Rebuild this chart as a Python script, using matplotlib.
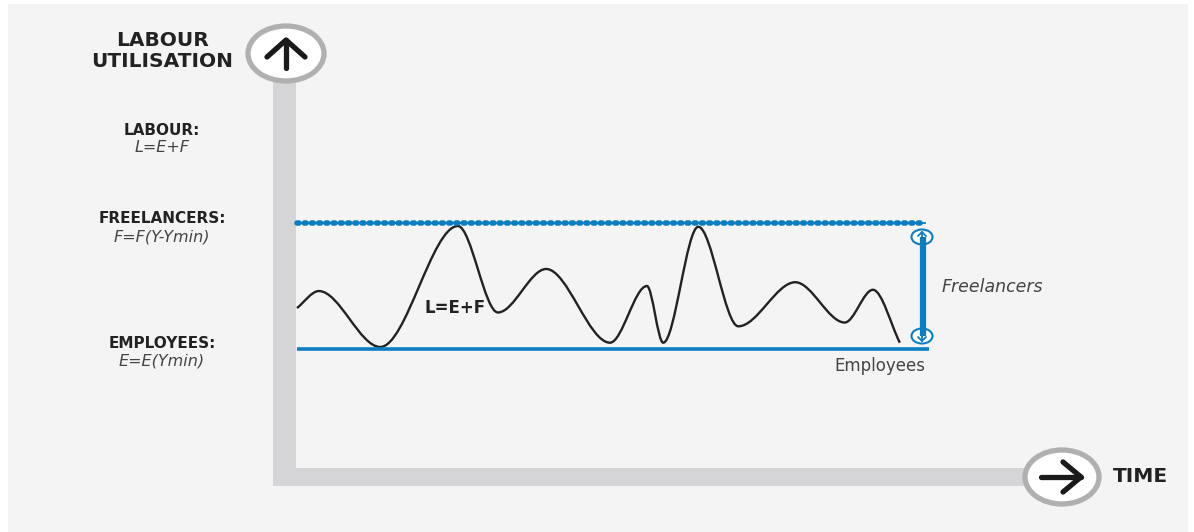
import matplotlib.pyplot as plt
import numpy as np
from matplotlib.patches import Ellipse, Rectangle, PathPatch
from matplotlib.path import Path

# labour curve turning points:
# time (0..100) and freelancer share (0 = employees only, 1 = freelancer maximum)
time = [0, 3.5, 13.3, 25.7, 32.1, 39.8, 50.0, 55.9, 58.5, 64.1, 70.5, 79.6, 87.5, 92.0, 96.3]
labour = [0.325, 0.46, 0.016, 0.976, 0.29, 0.635, 0.05, 0.50, 0.05, 0.97, 0.18, 0.53, 0.21, 0.47, 0.05]

employees_level = 0.0
freelancer_level = 1.0

left_labels = ["LABOUR:", "FREELANCERS:", "EMPLOYEES:"]
left_formulas = ["L=E+F", "F=F(Y-Ymin)", "E=E(Ymin)"]

BLUE = "#0b7dc1"
GREY_BAR = "#d5d5d7"
RING = "#b0b0b0"
INK = "#222222"


def smooth_path(xs, ys):
    # bezier through turning points: flat tangents at peaks/troughs, free at the ends
    pts = np.column_stack([xs, ys]).astype(float)
    n = len(pts)
    slopes = np.zeros(n)
    slopes[0] = (pts[1, 1] - pts[0, 1]) / (pts[1, 0] - pts[0, 0])
    slopes[-1] = (pts[-1, 1] - pts[-2, 1]) / (pts[-1, 0] - pts[-2, 0])
    verts = [pts[0]]
    codes = [Path.MOVETO]
    for i in range(n - 1):
        p1, p2 = pts[i], pts[i + 1]
        dx = (p2[0] - p1[0]) / 3.0
        c1 = p1 + np.array([dx, slopes[i] * dx])
        c2 = p2 - np.array([dx, slopes[i + 1] * dx])
        verts += [c1, c2, p2]
        codes += [Path.CURVE4] * 3
    return Path(verts, codes)


fig = plt.figure(figsize=(11.94, 5.32), dpi=100)
fig.patch.set_facecolor("white")

# pixel canvas for the decoration
ax = fig.add_axes([0, 0, 1, 1])
ax.set_xlim(0, 1194)
ax.set_ylim(532, 0)
ax.axis("off")
ax.add_patch(Rectangle((8, 4), 1180, 530, facecolor="#f4f4f4", edgecolor="none"))

# grey axis bars
ax.add_patch(Rectangle((273, 55), 23, 431, facecolor=GREY_BAR, edgecolor="none"))
ax.add_patch(Rectangle((273, 468), 790, 18, facecolor=GREY_BAR, edgecolor="none"))

# arrow circles
ax.add_patch(Ellipse((286, 53.5), 76, 55, facecolor="white", edgecolor=RING, lw=3.8, zorder=3))
ax.add_patch(Ellipse((1062, 477), 74, 54, facecolor="white", edgecolor=RING, lw=3.8, zorder=3))
arrow_kw = dict(color="#1a1a1a", lw=3.8, solid_capstyle="round", solid_joinstyle="round", zorder=4)
ax.plot([286, 286], [68, 40], **arrow_kw)
ax.plot([267, 286, 305], [57, 40, 57], **arrow_kw)
ax.plot([1041, 1081], [477, 477], **arrow_kw)
ax.plot([1063, 1081, 1063], [462, 477, 492], **arrow_kw)

ax.text(162, 51, "LABOUR\nUTILISATION", ha="center", va="center", fontsize=14.5,
        fontweight="bold", color=INK, linespacing=1.15)
ax.text(1140, 476, "TIME", ha="center", va="center", fontsize=14.5,
        fontweight="bold", color=INK)

for lab, form, yl, yf in zip(left_labels, left_formulas, [130.5, 218.5, 343.5], [148, 237, 361]):
    ax.text(162, yl, lab, ha="center", va="center", fontsize=11, fontweight="bold", color=INK)
    ax.text(162, yf, form, ha="center", va="center", fontsize=11.5, style="italic", color="#444444")

# chart area: employees at 0, freelancer max at 1
cx = fig.add_axes([297 / 1194, (532 - 349) / 532, (923 - 297) / 1194, 126 / 532])
cx.set_xlim(0, 100)
cx.set_ylim(0, 1)
cx.axis("off")
cx.patch.set_alpha(0)

cx.plot([0, 101], [employees_level, employees_level], color=BLUE, lw=2.6,
        solid_capstyle="butt", clip_on=False)
cx.plot([0, 100.3], [freelancer_level, freelancer_level], color=BLUE, lw=1.3, clip_on=False)
cx.plot([0, 100.3], [freelancer_level, freelancer_level], color=BLUE, lw=4.0,
        linestyle=(0, (0.35, 0.95)), dash_capstyle="round", clip_on=False)

cx.add_patch(PathPatch(smooth_path(time, labour), facecolor="none", edgecolor=INK,
                       lw=1.7, clip_on=False))

# freelancer range marker
cx.plot([100, 100], [0.1, 0.89], color=BLUE, lw=4.5, solid_capstyle="butt", clip_on=False)
ax.add_patch(Ellipse((922, 237), 21, 15, facecolor="white", edgecolor=BLUE, lw=1.5, zorder=5))
ax.add_patch(Ellipse((922, 336), 21, 15, facecolor="white", edgecolor=BLUE, lw=1.5, zorder=5))
small_kw = dict(color=BLUE, lw=1.3, solid_capstyle="round", zorder=6)
ax.plot([922, 922], [242, 232], **small_kw)
ax.plot([918, 922, 926], [236, 232, 236], **small_kw)
ax.plot([922, 922], [331, 341], **small_kw)
ax.plot([918, 922, 926], [337, 341, 337], **small_kw)

cx.text(25.3, 0.325, "L=E+F", ha="center", va="center", fontsize=12,
        fontweight="bold", color=INK)
ax.text(992, 287, "Freelancers", ha="center", va="center", fontsize=12.5,
        style="italic", color="#444444")
ax.text(880, 366, "Employees", ha="center", va="center", fontsize=12, color="#444444")

plt.savefig("out.png", dpi=100)
